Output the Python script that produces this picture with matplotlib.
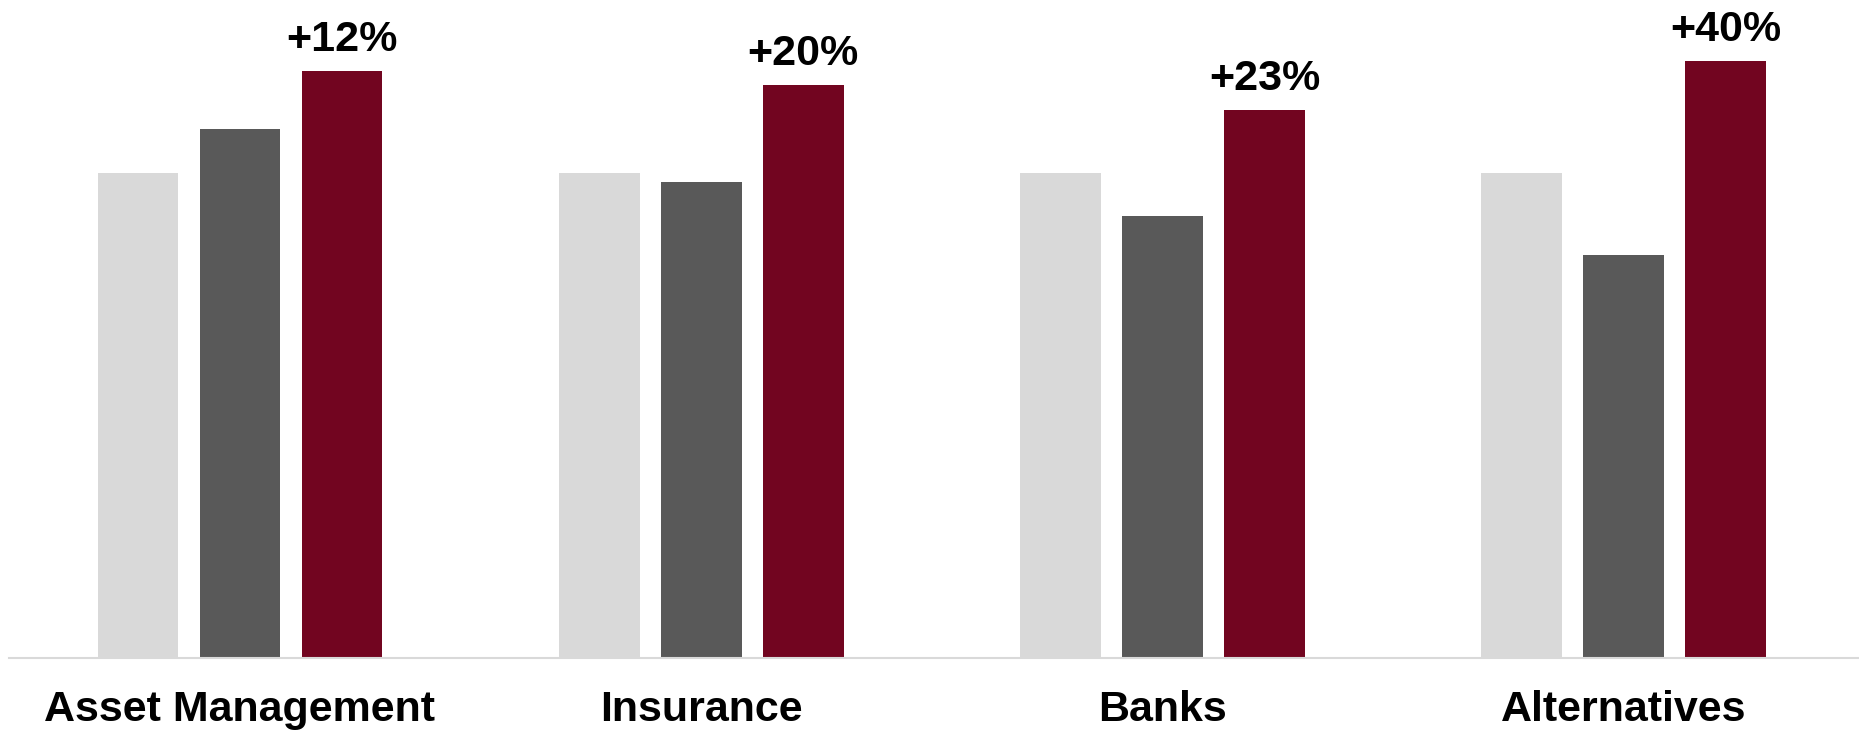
import numpy as np
import matplotlib
matplotlib.use("Agg")
import matplotlib.pyplot as plt

plt.rcParams['font.family'] = ['Liberation Sans', 'DejaVu Sans']

# Data (light bar = 100)
categories = ['Asset Management', 'Insurance', 'Banks', 'Alternatives']
base_vals = [100, 100, 100, 100]
mid_vals = [109.1, 98.0, 91.0, 83.0]
top_vals = [121.0, 118.1, 113.0, 123.1]
growth_labels = ['+12%', '+20%', '+23%', '+40%']

colors = ['#d9d9d9', '#595959', '#720520']

fig = plt.figure(figsize=(18.59, 7.30), dpi=100)
ax = fig.add_axes([0.005, 0.0986, 0.995, 0.9014])

x = np.arange(len(categories))
w = 0.175
off = 0.221

ax.bar(x - off, base_vals, w, color=colors[0])
ax.bar(x, mid_vals, w, color=colors[1])
bars = ax.bar(x + off, top_vals, w, color=colors[2])

for b, lab in zip(bars, growth_labels):
    ax.annotate(lab, (b.get_x() + b.get_width() / 2, b.get_height()),
                xytext=(0, 8), textcoords='offset points',
                ha='center', va='bottom', fontsize=31, fontweight='bold')

ax.set_xlim(-0.5, 3.51)
ax.set_ylim(0, 135.6)
ax.set_xticks(x)
ax.set_xticklabels(categories, fontsize=31, fontweight='bold')
ax.tick_params(axis='x', length=0, pad=23)
ax.set_yticks([])

for s in ['top', 'right', 'left']:
    ax.spines[s].set_visible(False)
ax.spines['bottom'].set_color('#d9d9d9')
ax.spines['bottom'].set_linewidth(1.5)

fig.savefig('out.png', dpi=100)
